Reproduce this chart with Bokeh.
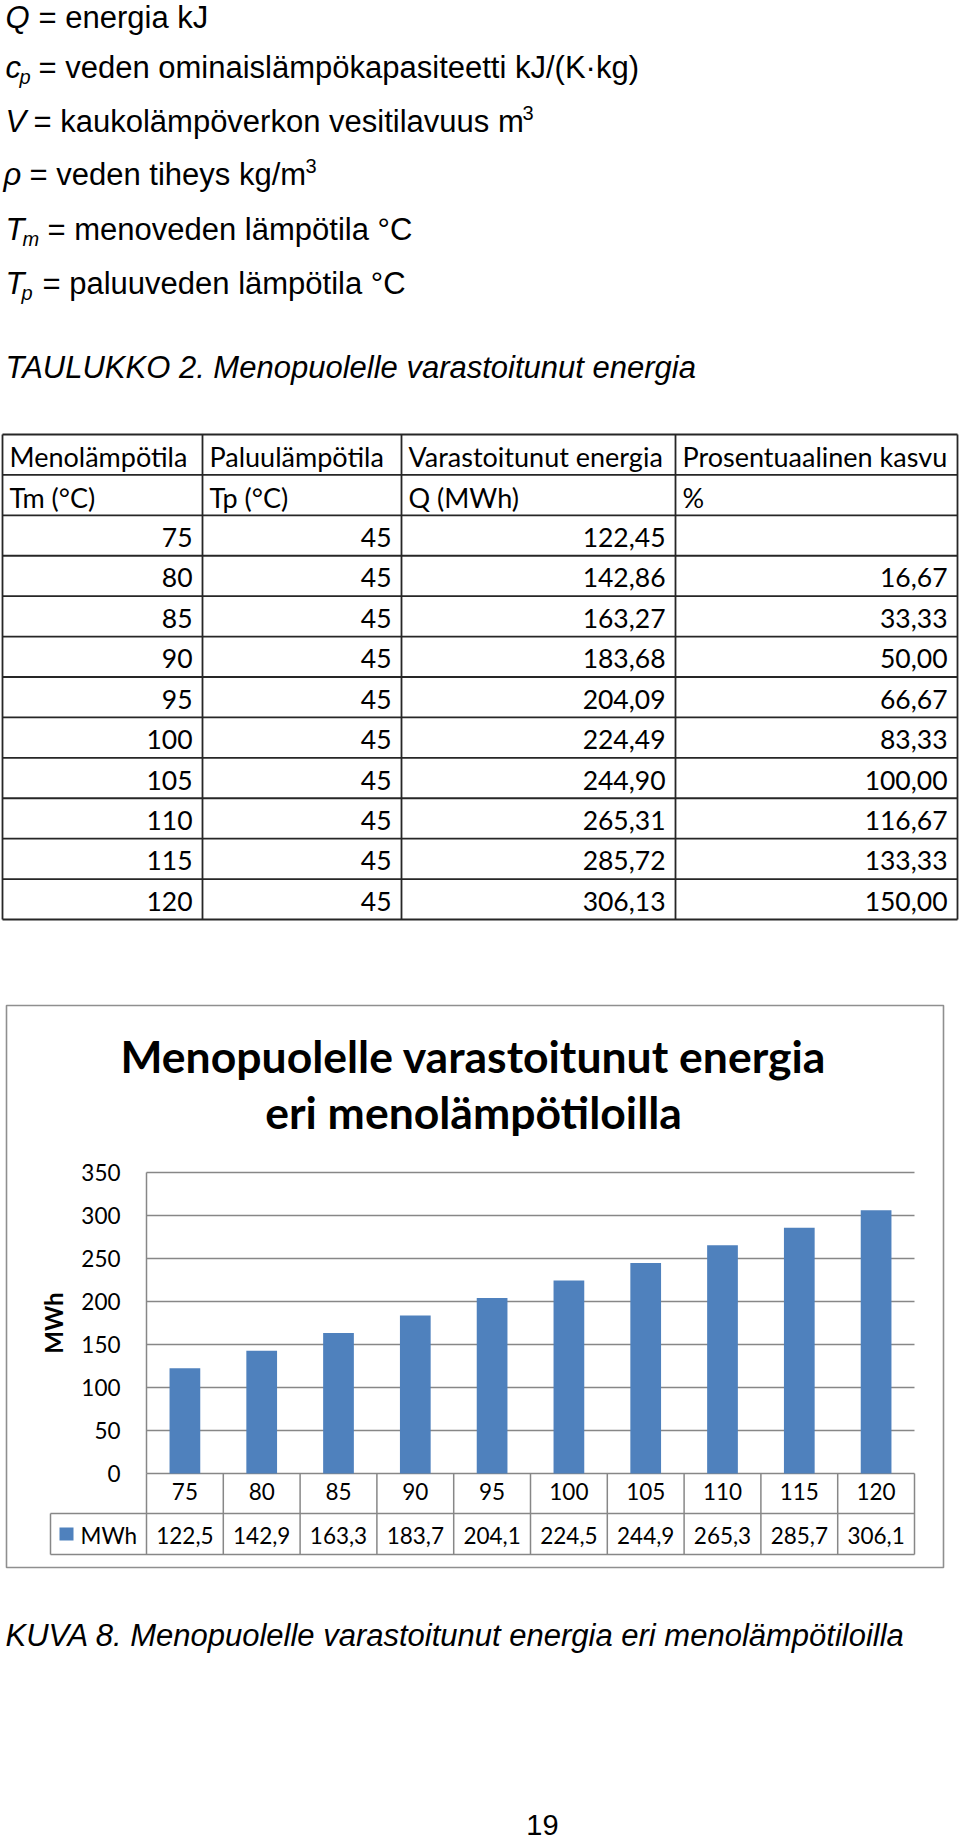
import math
from bokeh.plotting import figure
from bokeh.models import (Range1d, LinearAxis, FixedTicker, CustomJSTickFormatter,
                          ColumnDataSource)
from bokeh.core.properties import value
from bokeh.embed import file_html
from bokeh.resources import INLINE

# ---------------- data ----------------
def_symbols = ["Q", "c", "V", "ρ", "T", "T"]
def_subscripts = ["", "p", "", "", "m", "p"]
def_texts = ["= energia kJ",
             "= veden ominaislämpökapasiteetti kJ/(K·kg)",
             "= kaukolämpöverkon vesitilavuus m",
             "= veden tiheys kg/m",
             "= menoveden lämpötila °C",
             "= paluuveden lämpötila °C"]
def_superscripts = ["", "", "3", "3", "", ""]

table_caption = "TAULUKKO 2. Menopuolelle varastoitunut energia"
table_header = ["Menolämpötila", "Paluulämpötila", "Varastoitunut energia", "Prosentuaalinen kasvu"]
table_units = ["Tm (°C)", "Tp (°C)", "Q (MWh)", "%"]
meno_temp = [75, 80, 85, 90, 95, 100, 105, 110, 115, 120]
paluu_temp = [45, 45, 45, 45, 45, 45, 45, 45, 45, 45]
energy_mwh = [122.45, 142.86, 163.27, 183.68, 204.09, 224.49, 244.90, 265.31, 285.72, 306.13]
growth_pct = [None, 16.67, 33.33, 50.00, 66.67, 83.33, 100.00, 116.67, 133.33, 150.00]

chart_title = ["Menopuolelle varastoitunut energia", "eri menolämpötiloilla"]
chart_axis_label = "MWh"
series_name = "MWh"
y_ticks = [0, 50, 100, 150, 200, 250, 300, 350]

figure_caption = "KUVA 8. Menopuolelle varastoitunut energia eri menolämpötiloilla"
page_number = "19"


def fmt(v, d):
    return "" if v is None else f"{v:.{d}f}".replace(".", ",")


# ---------------- page figure ----------------
W, H = 960, 1840
p = figure(width=W, height=H, x_range=Range1d(0, W), y_range=Range1d(H, 0),
           output_backend="svg", toolbar_location=None,
           x_axis_type=None, y_axis_type=None, min_border=0)
p.outline_line_color = None
p.background_fill_color = "white"
p.border_fill_color = "white"

PAGE_FONT = value("Liberation Sans")
TAB_FONT = value("Lato")


def txt(x, y, s, size, style="normal", align="left", font=PAGE_FONT, color="black",
        baseline="middle", angle=0.0, **kw):
    p.text(x=[x], y=[y], text=[s], text_font=font, text_font_size=size,
           text_font_style=style, text_align=align, text_baseline=baseline,
           text_color=color, angle=angle, **kw)


# symbol definitions (y = visual middle of each line)
sym_x = [5, 5, 5, 3, 5, 5]
sub_x = [0, 19, 0, 0, 22, 21]
def_x = [38, 38, 33, 29, 47, 42]
sup_x = [0, 0, 522, 305, 0, 0]
mid_y = [17, 66.5, 120.5, 173.5, 228.5, 282.5]
for k in range(len(def_symbols)):
    txt(sym_x[k], mid_y[k], def_symbols[k], "31px", "italic")
    if def_subscripts[k]:
        txt(sub_x[k], mid_y[k] + 10, def_subscripts[k], "20px", "italic")
    txt(def_x[k], mid_y[k], def_texts[k], "31px")
    if def_superscripts[k]:
        txt(sup_x[k], mid_y[k] - 8, def_superscripts[k], "20px")

# table caption
txt(5, 367, table_caption, "31px", "italic")

# table grid
col_edges = [2, 202, 401, 675, 957]
row_top, row_bottom = 434, 919
n_rows = 2 + len(meno_temp)
row_h = (row_bottom - row_top) / n_rows
hy = [row_top + k * row_h for k in range(n_rows + 1)]
p.segment(x0=[col_edges[0]] * len(hy), x1=[col_edges[-1]] * len(hy), y0=hy, y1=hy,
          line_color="#262626", line_width=1.8)
p.segment(x0=col_edges, x1=col_edges, y0=[row_top] * len(col_edges),
          y1=[row_bottom] * len(col_edges), line_color="#262626", line_width=1.8)

ROW_MID = row_h / 2 + 2
for c in range(4):
    txt(col_edges[c] + 7, hy[0] + ROW_MID, table_header[c], "27px", font=TAB_FONT)
    txt(col_edges[c] + 7, hy[1] + ROW_MID, table_units[c], "27px", font=TAB_FONT)
for j in range(len(meno_temp)):
    vals = [str(meno_temp[j]), str(paluu_temp[j]), fmt(energy_mwh[j], 2), fmt(growth_pct[j], 2)]
    for c in range(4):
        if vals[c]:
            txt(col_edges[c + 1] - 10, hy[j + 2] + ROW_MID, vals[c], "26.5px", align="right",
                font=TAB_FONT)

# ---------------- chart ----------------
PLOT_L, PLOT_R = 146, 914
Y0_PX, YTOP_PX = 1473, 1172
n = len(meno_temp)
cell = (PLOT_R - PLOT_L) / n
ppu = (Y0_PX - YTOP_PX) / y_ticks[-1]
p.extra_x_ranges = {"cx": Range1d((0 - PLOT_L) / cell - 0.5, (W - PLOT_L) / cell - 0.5)}
p.extra_y_ranges = {"cy": Range1d((Y0_PX - H) / ppu, Y0_PX / ppu)}

GRID = "#878787"
# chart outer box
p.quad(left=[6], right=[943], top=[1005], bottom=[1567], fill_color=None,
       line_color="#8f8f8f", line_width=1.6)

# title
title_mid = [1055, 1111]
for k, t in enumerate(chart_title):
    txt(473, title_mid[k], t, "44.5px", "bold", align="center", font=TAB_FONT)

# gridlines and vertical axis line
p.segment(x0=[-0.5] * len(y_ticks), x1=[n - 0.5] * len(y_ticks), y0=y_ticks, y1=y_ticks,
          line_color=GRID, line_width=1.5, x_range_name="cx", y_range_name="cy")
p.segment(x0=[-0.5], x1=[-0.5], y0=[0], y1=[y_ticks[-1]],
          line_color=GRID, line_width=1.5, x_range_name="cx", y_range_name="cy")

src = ColumnDataSource(dict(i=list(range(n)), v=energy_mwh,
                            lab=[fmt(v, 1) for v in energy_mwh]))
p.vbar(x="i", top="v", bottom=0, width=0.4, source=src, fill_color="#4F81BD",
       line_color=None, x_range_name="cx", y_range_name="cy")

# axes (fixed inside the page frame)
yax = LinearAxis(x_range_name="cx", y_range_name="cy", fixed_location=-0.5,
                 ticker=FixedTicker(ticks=y_ticks))
yax.axis_line_color = None
yax.major_tick_line_color = None
yax.minor_tick_line_color = None
yax.major_tick_out = 0
yax.major_tick_in = 0
yax.major_label_standoff = 26
yax.major_label_text_font = "Lato"
yax.major_label_text_font_size = "22.5px"
yax.major_label_text_color = "black"
p.add_layout(yax, "left")

xax = LinearAxis(x_range_name="cx", y_range_name="cy", fixed_location=0,
                 ticker=FixedTicker(ticks=list(range(n))),
                 formatter=CustomJSTickFormatter(args=dict(labels=[str(m) for m in meno_temp]),
                                                 code="return labels[Math.round(tick)]"))
xax.axis_line_color = None
xax.major_tick_line_color = None
xax.minor_tick_line_color = None
xax.major_tick_out = 0
xax.major_tick_in = 0
xax.major_label_standoff = 9
xax.major_label_text_font = "Lato"
xax.major_label_text_font_size = "22.5px"
xax.major_label_text_color = "black"
p.add_layout(xax, "below")

# data table under the chart
TBL_MID, TBL_BOT, LEG_L = 1513, 1554, 50
p.segment(x0=[k - 0.5 for k in range(n + 1)], x1=[k - 0.5 for k in range(n + 1)],
          y0=[Y0_PX] * (n + 1), y1=[TBL_BOT] * (n + 1),
          line_color=GRID, line_width=1.5, x_range_name="cx")
p.segment(x0=[LEG_L, LEG_L, LEG_L], x1=[PLOT_R, PLOT_R, LEG_L],
          y0=[TBL_MID, TBL_BOT, TBL_MID], y1=[TBL_MID, TBL_BOT, TBL_BOT],
          line_color=GRID, line_width=1.5)
VAL_MID = (TBL_MID + TBL_BOT) / 2 + 1
p.text(x="i", y=VAL_MID, text="lab", source=src, text_font=TAB_FONT,
       text_font_size="22.5px", text_align="center", text_baseline="middle",
       text_color="black", x_range_name="cx")
p.quad(left=[59], right=[73], top=[1527], bottom=[1540], fill_color="#4F81BD", line_color=None)
txt(80, VAL_MID, series_name, "22.5px", font=TAB_FONT)

# rotated axis title
txt(53, (Y0_PX + YTOP_PX) / 2, chart_axis_label, "24px", "bold", align="center",
    font=TAB_FONT, baseline="middle", angle=math.pi / 2)

# ---------------- bottom ----------------
txt(5, 1635, figure_caption, "31px", "italic")
txt(542, 1824, page_number, "29px", align="center")

open("out.html", "w").write(file_html(p, INLINE))
